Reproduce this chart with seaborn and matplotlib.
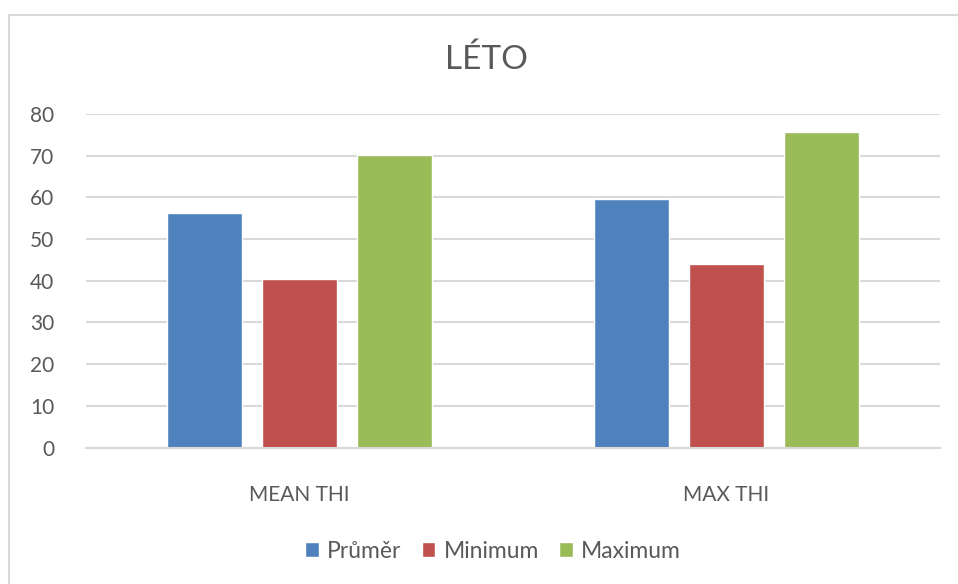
import matplotlib
matplotlib.use("Agg")
import matplotlib.pyplot as plt
from matplotlib.patches import Rectangle
import seaborn as sns
import pandas as pd

categories = ["MEAN THI", "MAX THI"]
series_names = ["Průměr", "Minimum", "Maximum"]
prumer = [56.2, 59.5]
minimum = [40.5, 44.0]
maximum = [70.1, 75.8]
y_ticks = [0, 10, 20, 30, 40, 50, 60, 70, 80]

colors = ["#4F81BD", "#C0504D", "#9BBB59"]
text_color = "#595959"
grid_color = "#D9D9D9"

rows = []
for name, vals in zip(series_names, [prumer, minimum, maximum]):
    for cat, v in zip(categories, vals):
        rows.append({"kategorie": cat, "řada": name, "hodnota": v})
df = pd.DataFrame(rows)

sns.set_theme(style="white")
plt.rcParams["font.family"] = ["Lato", "DejaVu Sans"]

fig = plt.figure(figsize=(9.58, 5.84), dpi=100)
ax = fig.add_axes([86 / 958, 1 - 447.5 / 584, (940 - 86) / 958, (447.5 - 114) / 584])

sns.barplot(data=df, x="kategorie", y="hodnota", hue="řada",
            order=categories, hue_order=series_names, palette=colors,
            width=0.6675, gap=0.21, saturation=1, errorbar=None,
            ax=ax, legend=True)

ax.set_ylim(0, 80)
ax.set_yticks(y_ticks)
ax.set_xlim(-0.5, 1.5)
ax.yaxis.grid(True, color=grid_color, linewidth=1.5)
ax.set_axisbelow(True)
for side in ["top", "right", "left"]:
    ax.spines[side].set_visible(False)
ax.spines["bottom"].set_color(grid_color)
ax.spines["bottom"].set_linewidth(1.5)
ax.tick_params(axis="both", length=0, colors=text_color, labelsize=15)
ax.tick_params(axis="y", pad=23)
ax.tick_params(axis="x", pad=27)
ax.set_xlabel("")
ax.set_ylabel("")

ax.legend(loc="center", bbox_to_anchor=(493 / 958, 1 - 551 / 584),
          bbox_transform=fig.transFigure, ncol=3, frameon=False,
          fontsize=16.5, labelcolor=text_color, handlelength=0.6,
          handleheight=0.6, handletextpad=0.35, columnspacing=0.9)

fig.text(486 / 958, 1 - 60 / 584, "LÉTO", ha="center", va="center",
         fontsize=24, color=text_color)

# chart-area border, running off the right and bottom edges
fig.patches.append(Rectangle((9 / 958, -0.2), 1.2, 1.2 - 15 / 584,
                             transform=fig.transFigure, fill=False,
                             edgecolor=grid_color, linewidth=1.5, zorder=0))

fig.savefig("out.png", dpi=100, facecolor="white")
